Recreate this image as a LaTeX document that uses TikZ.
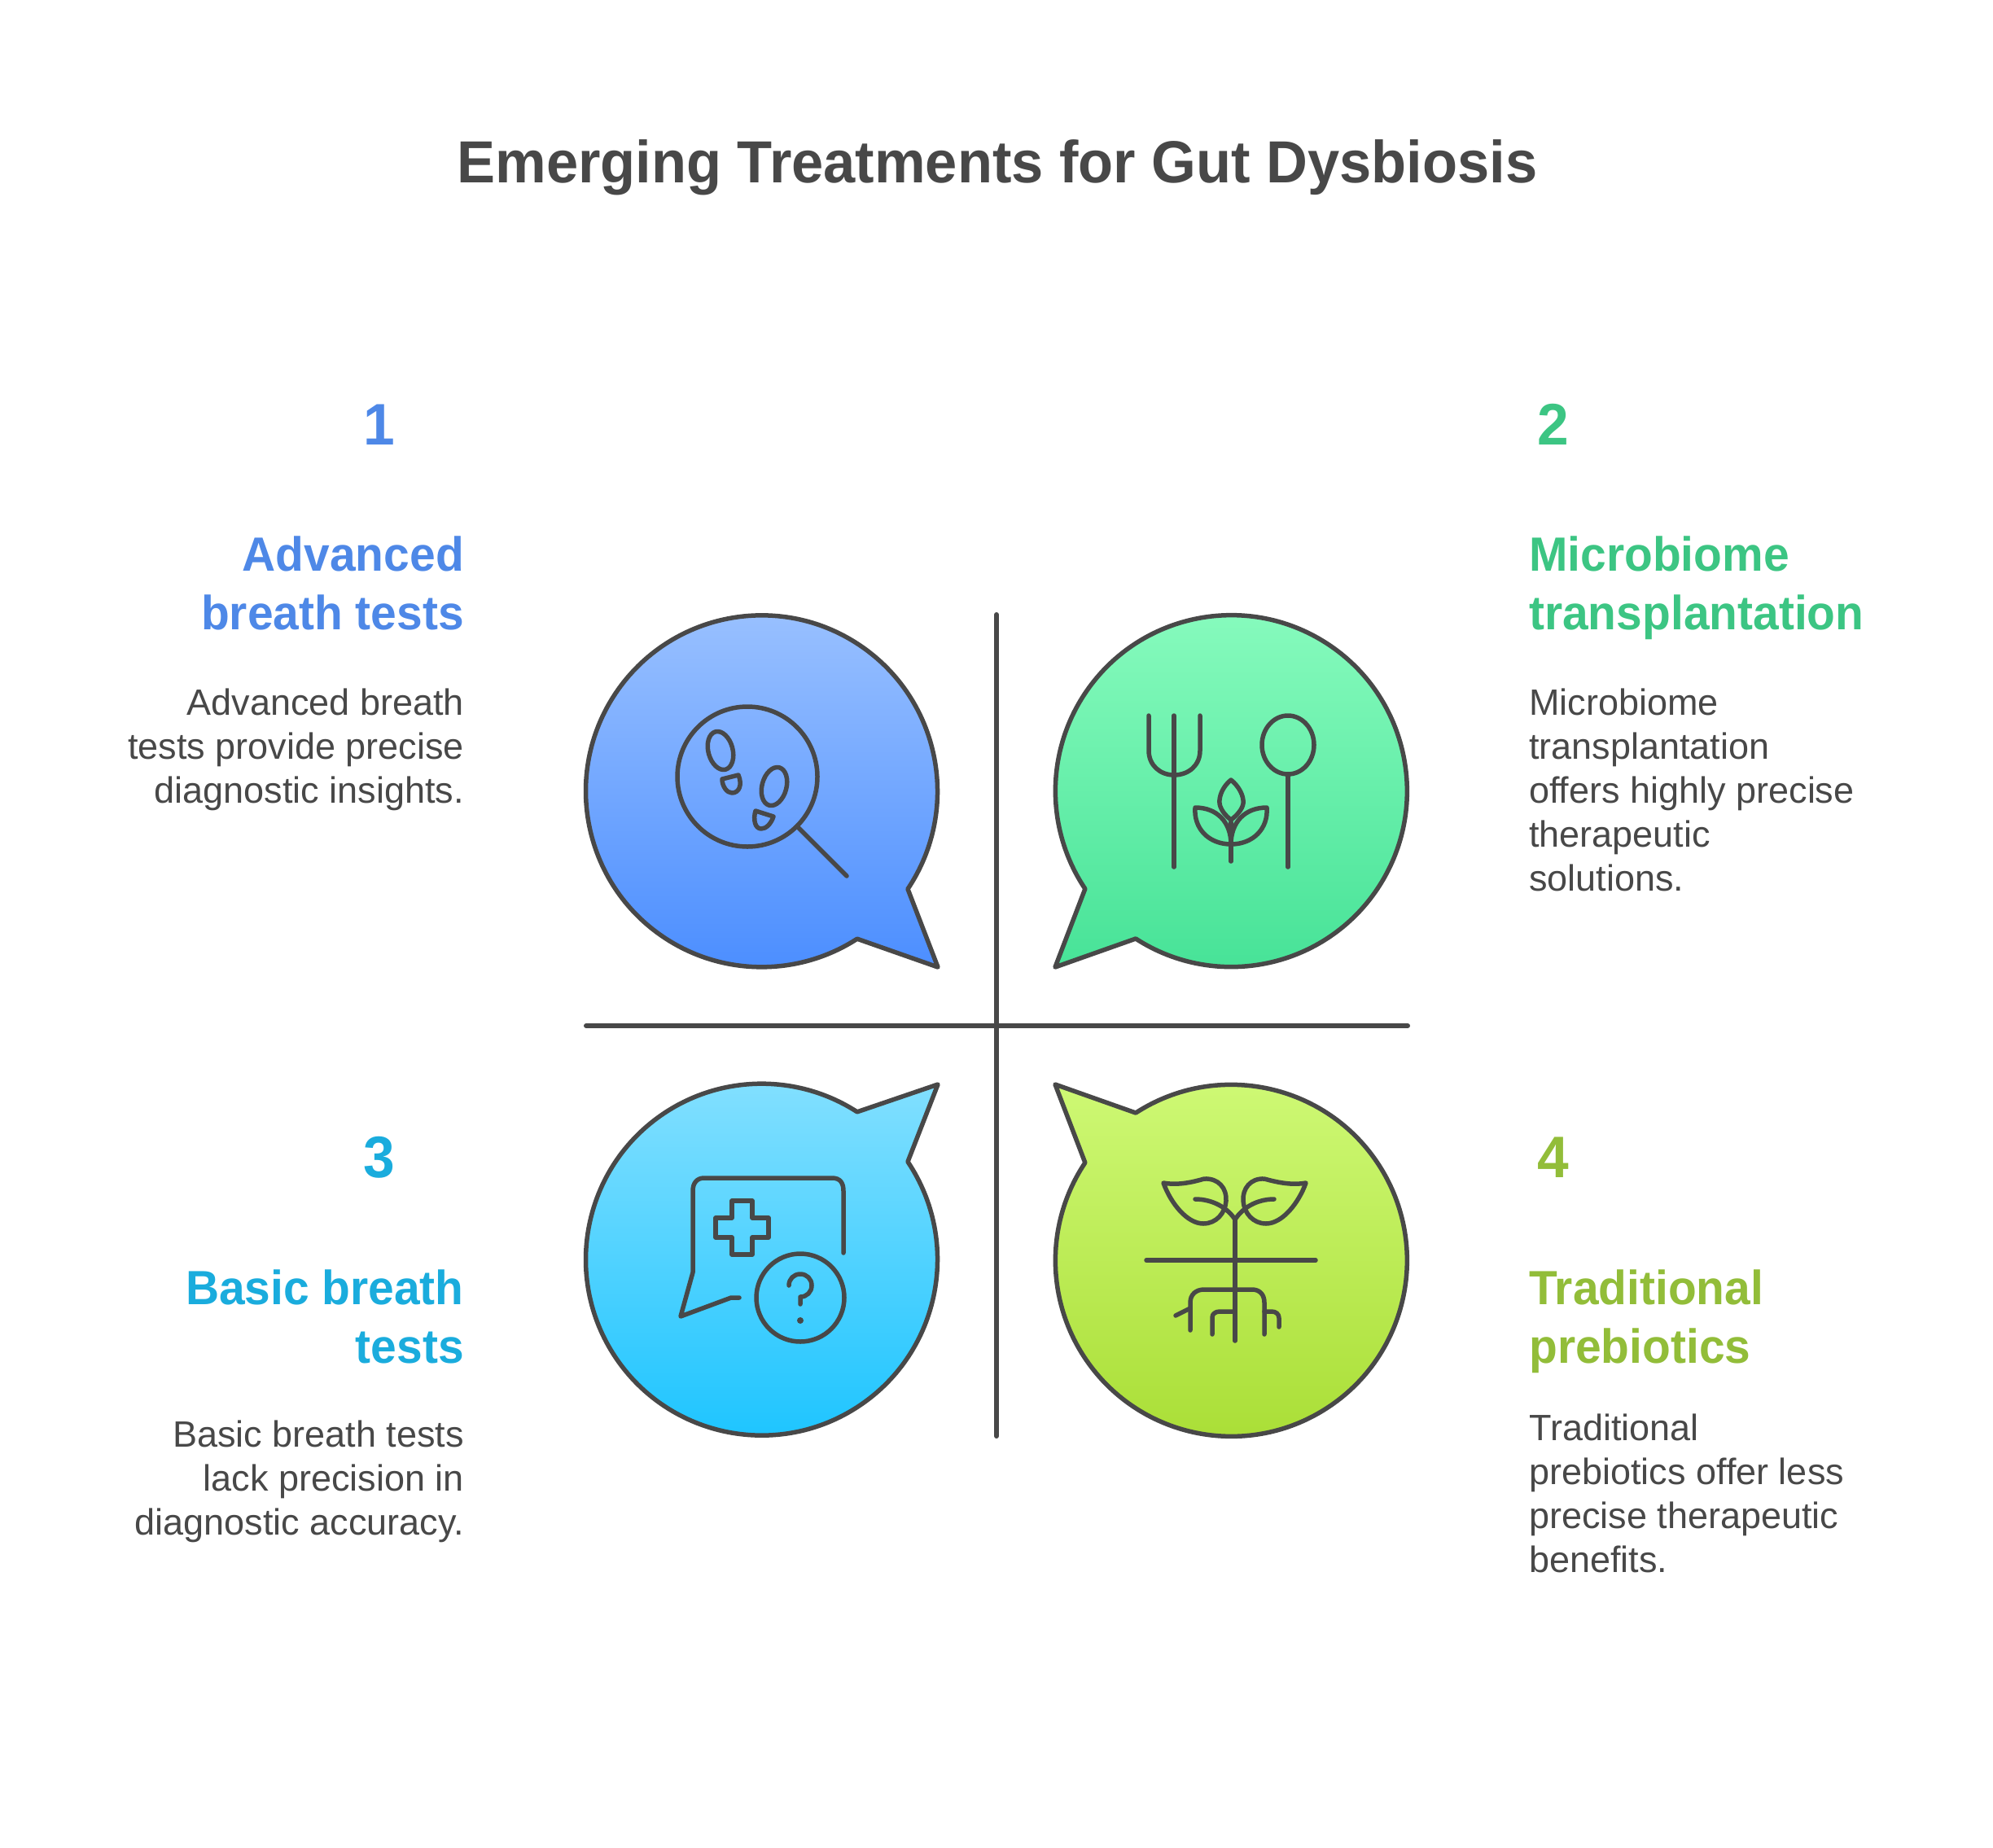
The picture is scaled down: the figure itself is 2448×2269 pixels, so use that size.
\documentclass[tikz,border=0pt]{standalone}
\usepackage{fontspec}
\setmainfont{Liberation Sans}[BoldFeatures={FakeStretch=0.965}]
\usetikzlibrary{positioning}
\definecolor{ink}{HTML}{484848}
\definecolor{blueText}{HTML}{4E88E7}
\definecolor{greenText}{HTML}{3CC583}
\definecolor{cyanText}{HTML}{1AACDD}
\definecolor{limeText}{HTML}{92BD39}
\definecolor{blueTop}{HTML}{9DC3FF}
\definecolor{blueBot}{HTML}{4A8DFF}
\definecolor{greenTop}{HTML}{8AFCBF}
\definecolor{greenBot}{HTML}{43E195}
\definecolor{cyanTop}{HTML}{84E0FF}
\definecolor{cyanBot}{HTML}{18C3FF}
\definecolor{limeTop}{HTML}{D0FA78}
\definecolor{limeBot}{HTML}{A8DD33}
\tikzset{
  bubble/.style={draw=ink, line width=5.5pt, line join=round},
  icon/.style={draw=ink, line width=5.5pt, line cap=round, line join=round},
  axisline/.style={draw=ink, line width=6pt, line cap=round},
  titletext/.style={text=ink, inner sep=0pt, font=\fontsize{73}{73}\selectfont\bfseries},
  numtext/.style={inner sep=0pt, font=\fontsize{72}{72}\selectfont\bfseries},
  headtext/.style={inner sep=0pt, font=\fontsize{59}{72}\selectfont\bfseries},
  bodytext/.style={text=ink, inner sep=0pt, font=\fontsize{45}{54}\selectfont},
}
\begin{document}
\begin{tikzpicture}[x=1pt,y=-1pt]
\useasboundingbox (0,0) rectangle (2448,2269);

\node[titletext, anchor=base] (title) at (1225,224) {Emerging Treatments for Gut Dysbiosis};

% left column
\node[numtext, text=blueText, anchor=base] (num1) at (466,546) {1};
\node[headtext, text=blueText, anchor=base east, align=right] (head1) at (570,773) {Advanced\\breath tests};
\node[bodytext, anchor=base east, align=right] (desc1) at (570,986) {Advanced breath\\tests provide precise\\diagnostic insights.};

\node[numtext, text=cyanText, anchor=base] (num3) at (466,1446) {3};
\node[headtext, text=cyanText, anchor=base east, align=right] (head3) at (570,1674) {Basic breath\\tests};
\node[bodytext, anchor=base east, align=right] (desc3) at (570,1885) {Basic breath tests\\lack precision in\\diagnostic accuracy.};

% right column
\node[numtext, text=greenText, anchor=base] (num2) at (1908,546) {2};
\node[headtext, text=greenText, anchor=base west, align=left] (head2) at (1878,773) {Microbiome\\transplantation};
\node[bodytext, anchor=base west, align=left] (desc2) at (1878,1094) {Microbiome\\transplantation\\offers highly precise\\therapeutic\\solutions.};

\node[numtext, text=limeText, anchor=base] (num4) at (1908,1446) {4};
\node[headtext, text=limeText, anchor=base west, align=left] (head4) at (1878,1674) {Traditional\\prebiotics};
\node[bodytext, anchor=base west, align=left] (desc4) at (1878,1931) {Traditional\\prebiotics offer less\\precise therapeutic\\benefits.};

% bubbles
\draw[bubble, top color=blueTop, bottom color=blueBot] (1115,1092) arc[start angle=33.8, end angle=-302.9, radius=216] -- (1152,1188) -- cycle;
\draw[bubble, top color=greenTop, bottom color=greenBot] (1395,1153) arc[start angle=122.9, end angle=-213.8, radius=216] -- (1296,1188) -- cycle;
\draw[bubble, top color=cyanTop, bottom color=cyanBot] (1115,1427) arc[start angle=-33.8, end angle=302.9, radius=216] -- (1152,1332) -- cycle;
\draw[bubble, top color=limeTop, bottom color=limeBot] (1395,1367) arc[start angle=237.1, end angle=573.8, radius=216] -- (1296,1332) -- cycle;

% cross
\coordinate (vtop) at (1224,755);
\coordinate (vbot) at (1224,1764);
\coordinate (hleft) at (720,1260);
\coordinate (hright) at (1729,1260);
\draw[axisline] (vtop) -- (vbot);
\draw[axisline] (hleft) -- (hright);

% magnifier
\draw[icon] (918,954) circle (86);
\draw[icon] (981,1017) -- (1040,1076);
\draw[icon] (885,922) ellipse[x radius=15, y radius=24, rotate=15];
\draw[icon] (951,966) ellipse[x radius=15, y radius=24, rotate=-15];
\draw[icon] (887,957) -- (907,952) .. controls (912,964) and (908,974) .. (899,974) .. controls (893,974) and (887,966) .. cycle;
\draw[icon] (928,996) -- (950,1003) .. controls (947,1012) and (941,1018) .. (935,1018) .. controls (927,1018) and (925,1006) .. cycle;

% fork, spoon, sprout
\draw[icon] (1411,879) -- (1411,922) .. controls (1411,940) and (1425,952) .. (1442,952) .. controls (1460,952) and (1474,940) .. (1474,922) -- (1474,879);
\draw[icon] (1442,879) -- (1442,1065);
\draw[icon] (1582,915) ellipse[x radius=32, y radius=36];
\draw[icon] (1582,952) -- (1582,1065);
\draw[icon] (1512,958) .. controls (1502,966) and (1497,978) .. (1498,987) .. controls (1499,994) and (1505,1002) .. (1512,1007) .. controls (1519,1002) and (1526,994) .. (1527,987) .. controls (1528,978) and (1522,966) .. (1512,958) -- cycle;
\draw[icon] (1512,1058) -- (1512,1010);
\draw[icon] (1512,1037) .. controls (1512,1010) and (1495,992) .. (1468,992) .. controls (1466,1018) and (1485,1037) .. (1512,1037) .. controls (1539,1037) and (1558,1018) .. (1556,992) .. controls (1529,992) and (1512,1010) .. (1512,1037);

% chat box, cross, question mark
\draw[icon] (1036,1539) -- (1036,1463) .. controls (1036,1453) and (1032,1447) .. (1022,1447) -- (865,1447) .. controls (856,1447) and (851,1453) .. (851,1463) -- (851,1563) -- (836,1617) -- (898,1594) -- (908,1594);
\draw[icon] (899,1475) -- (924,1475) -- (924,1496) -- (944,1496) -- (944,1520) -- (924,1520) -- (924,1541) -- (899,1541) -- (899,1520) -- (879,1520) -- (879,1496) -- (899,1496) -- cycle;
\draw[icon] (983,1594) circle (54);
\draw[icon] (969,1579) .. controls (969,1571) and (975,1565) .. (983,1565) .. controls (991,1565) and (997,1571) .. (997,1579) .. controls (997,1587) and (991,1593) .. (983,1593) -- (983,1602);
\fill[ink] (983,1622) circle (4);

% seedling with roots
\draw[icon] (1408,1548) -- (1616,1548);
\draw[icon] (1517,1498) -- (1517,1647);
\draw[icon] (1429,1453) .. controls (1445,1456) and (1462,1453) .. (1479,1448) .. controls (1497,1447) and (1507,1460) .. (1506,1475) .. controls (1505,1490) and (1494,1503) .. (1478,1503) .. controls (1458,1503) and (1438,1478) .. (1429,1453) -- cycle;
\draw[icon] (1604,1453) .. controls (1588,1456) and (1571,1453) .. (1553,1448) .. controls (1536,1447) and (1526,1460) .. (1527,1475) .. controls (1528,1490) and (1539,1503) .. (1555,1503) .. controls (1575,1503) and (1595,1478) .. (1604,1453) -- cycle;
\draw[icon] (1468,1473) .. controls (1490,1473) and (1508,1484) .. (1517,1498) .. controls (1526,1484) and (1543,1473) .. (1565,1473);
\draw[icon] (1462,1634) -- (1462,1600) .. controls (1462,1590) and (1469,1584) .. (1479,1584) -- (1538,1584) .. controls (1547,1584) and (1553,1590) .. (1553,1600) -- (1553,1639);
\draw[icon] (1444,1616) -- (1462,1607);
\draw[icon] (1489,1639) -- (1489,1618) .. controls (1489,1614) and (1493,1611) .. (1498,1611) -- (1517,1611);
\draw[icon] (1553,1611) -- (1562,1611) .. controls (1567,1611) and (1571,1614) .. (1571,1619) -- (1571,1630);
\end{tikzpicture}
\end{document}
